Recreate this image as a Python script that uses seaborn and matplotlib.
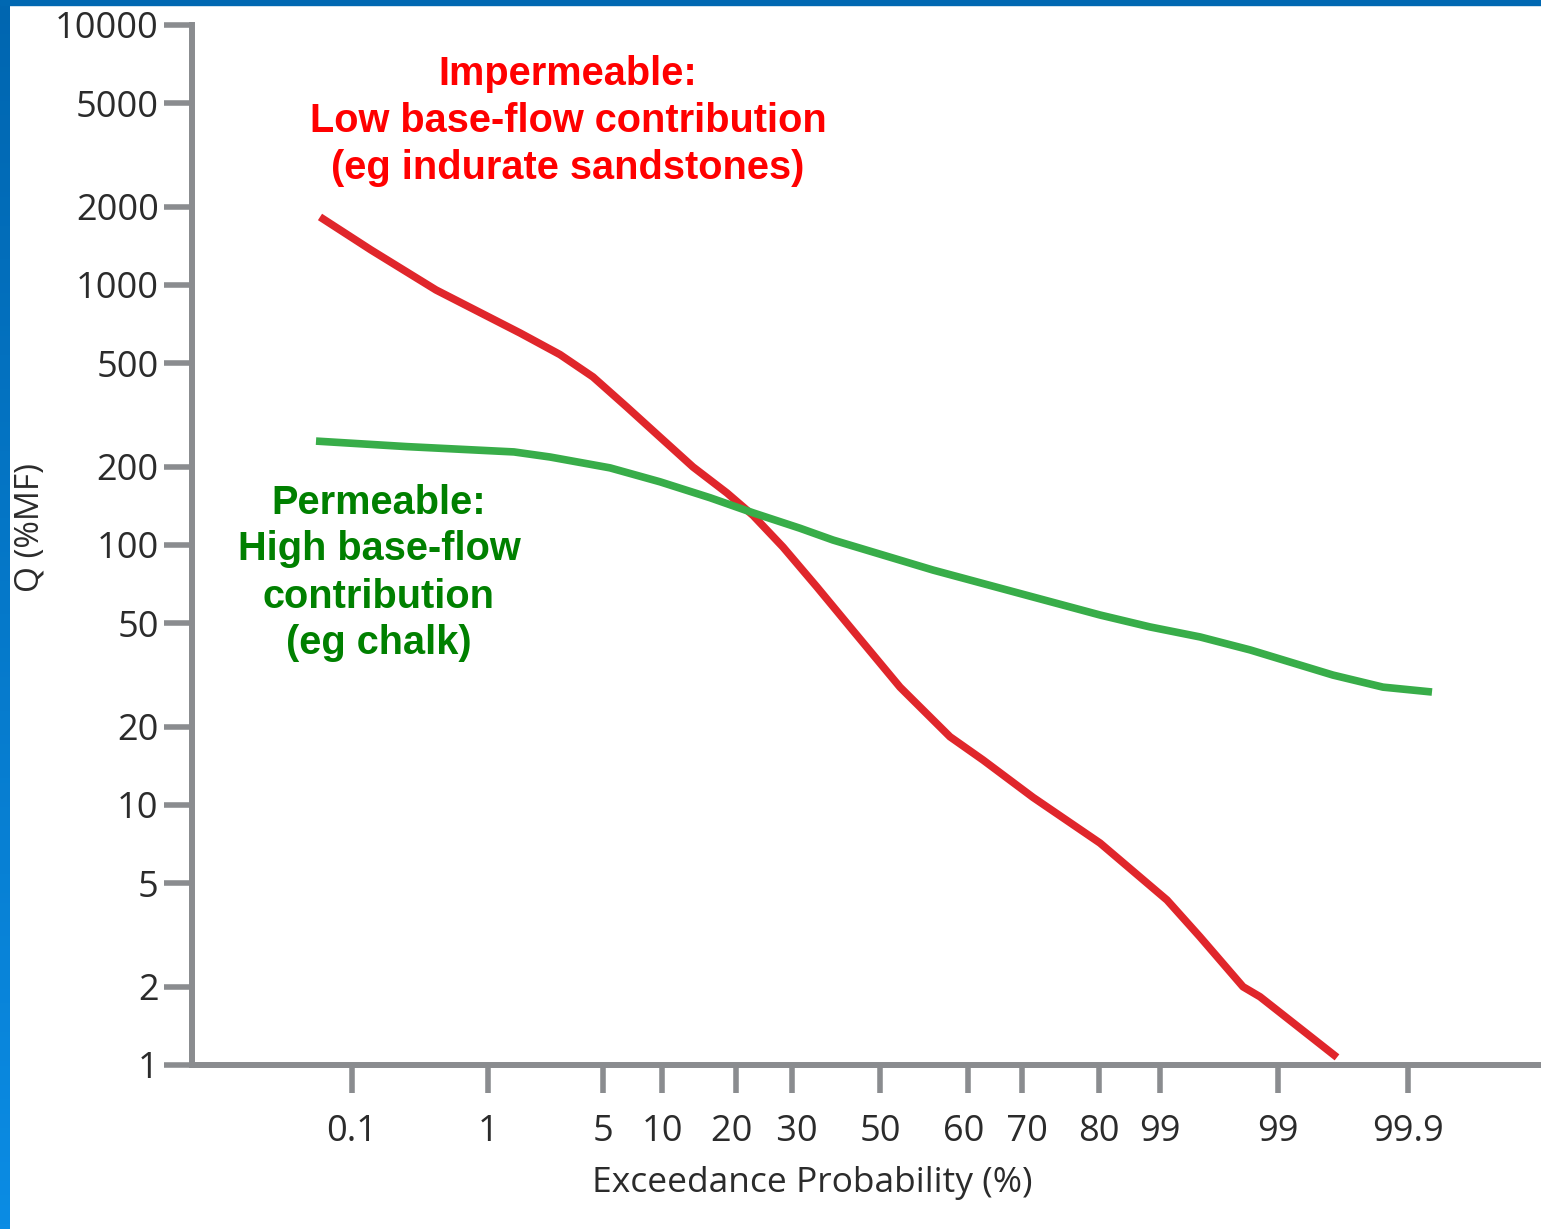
import numpy as np
import pandas as pd
import matplotlib.pyplot as plt
import seaborn as sns
from matplotlib.patches import Rectangle
from matplotlib.colors import LinearSegmentedColormap

# x positions are on the probability-paper plotting scale of the chart
tick_pos = [1.60, 2.96, 4.11, 4.70, 5.44, 6.00, 6.88, 7.76, 8.30, 9.07, 9.68, 10.86, 12.16]
tick_labels = ["0.1", "1", "5", "10", "20 ", " 30", "50", "60 ", " 70", "80", "99", "99", "99.9"]
y_ticks = [1, 2, 5, 10, 20, 50, 100, 200, 500, 1000, 2000, 5000, 10000]

# impermeable catchment (red)
red_x = [1.28, 1.79, 2.44, 3.28, 3.68, 4.01, 4.35, 4.68, 5.01, 5.35, 5.61, 5.91, 6.25, 6.58,
         7.08, 7.58, 7.91, 8.41, 9.08, 9.75, 10.08, 10.51, 10.68, 11.45]
red_q = [1827, 1364, 957, 654, 540, 443, 339, 260, 199.6, 158.5, 130, 98.2, 68.9, 48.4,
         28.4, 18.3, 14.9, 10.7, 7.14, 4.31, 3.11, 2.0, 1.83, 1.07]

# permeable catchment (green)
green_x = [1.24, 2.15, 3.22, 3.58, 4.18, 4.68, 5.18, 5.61, 6.08, 6.41, 7.41, 8.41, 9.08,
           9.58, 10.08, 10.58, 11.41, 11.91, 12.40]
green_q = [251, 239, 228, 218, 198, 175, 152, 133, 116, 104.5, 80.1, 63.1, 53.8,
           48.4, 44.3, 39.5, 31.6, 28.4, 27.2]

df = pd.concat([
    pd.DataFrame({"pos": red_x, "Q": red_q, "type": "Impermeable"}),
    pd.DataFrame({"pos": green_x, "Q": green_q, "type": "Permeable"}),
])

sns.set_theme(style="white")
plt.rcParams["font.family"] = ["Open Sans", "DejaVu Sans"]

axis_grey = "#8a8c8f"
text_dark = "#2b2b2b"
fig = plt.figure(figsize=(15.41, 12.29), dpi=100)
ax = fig.add_axes([192 / 1541, 1 - 1065 / 1229, 1 - 192 / 1541, 1040 / 1229])

sns.lineplot(data=df, x="pos", y="Q", hue="type", sort=False,
             palette={"Impermeable": "#e0262b", "Permeable": "#38ad49"},
             linewidth=5.5, legend=False, ax=ax,
             solid_capstyle="butt", solid_joinstyle="round")

ax.set_yscale("log")
ax.set_ylim(1, 10000)
ax.set_xlim(0, 13.49)
ax.set_yticks(y_ticks)
ax.set_yticklabels([str(v) for v in y_ticks])
ax.yaxis.set_minor_locator(plt.NullLocator())
ax.set_xticks(tick_pos)
ax.set_xticklabels(tick_labels)

for s in ["top", "right"]:
    ax.spines[s].set_visible(False)
for s in ["left", "bottom"]:
    ax.spines[s].set_color(axis_grey)
    ax.spines[s].set_linewidth(4.3)
ax.tick_params(axis="both", bottom=True, left=True, colors=axis_grey, length=20, width=4.0,
               labelcolor=text_dark, labelsize=26, direction="out")
ax.tick_params(axis="y", pad=4)
ax.tick_params(axis="x", pad=15)

ax.set_xlabel("Exceedance Probability (%)", fontsize=25.5, color=text_dark)
ax.xaxis.set_label_coords(0.46, -0.097)
ax.set_ylabel("Q (%MF)", fontsize=24, color=text_dark)
ax.yaxis.set_label_coords(-0.108, 0.517)
ax.patch.set_alpha(0)

# annotations
fig.text(568 / 1541, 1 - 121 / 1229, "Impermeable:\nLow base-flow contribution\n(eg indurate sandstones)",
         color="#ff0000", fontsize=28.6, fontweight="bold", ha="center", va="center",
         family=["Liberation Sans", "DejaVu Sans"], linespacing=1.3)
fig.text(379 / 1541, 1 - 573 / 1229, "Permeable:\nHigh base-flow\ncontribution\n(eg chalk)",
         color="#008000", fontsize=28.6, fontweight="bold", ha="center", va="center",
         family=["Liberation Sans", "DejaVu Sans"], linespacing=1.3)

# blue slide frame
fig.patches.append(Rectangle((0, 1 - 5 / 1229), 1, 5 / 1229, transform=fig.transFigure,
                             color="#0068b2", zorder=0))
frame = fig.add_axes([0, 0, 10 / 1541, 1])
grad = np.linspace(0, 1, 256).reshape(-1, 1)
cmap = LinearSegmentedColormap.from_list("frame", ["#0066b0", "#0b8ce4"])
frame.imshow(grad, aspect="auto", cmap=cmap)
frame.axis("off")

fig.savefig("out.png", dpi=100)
